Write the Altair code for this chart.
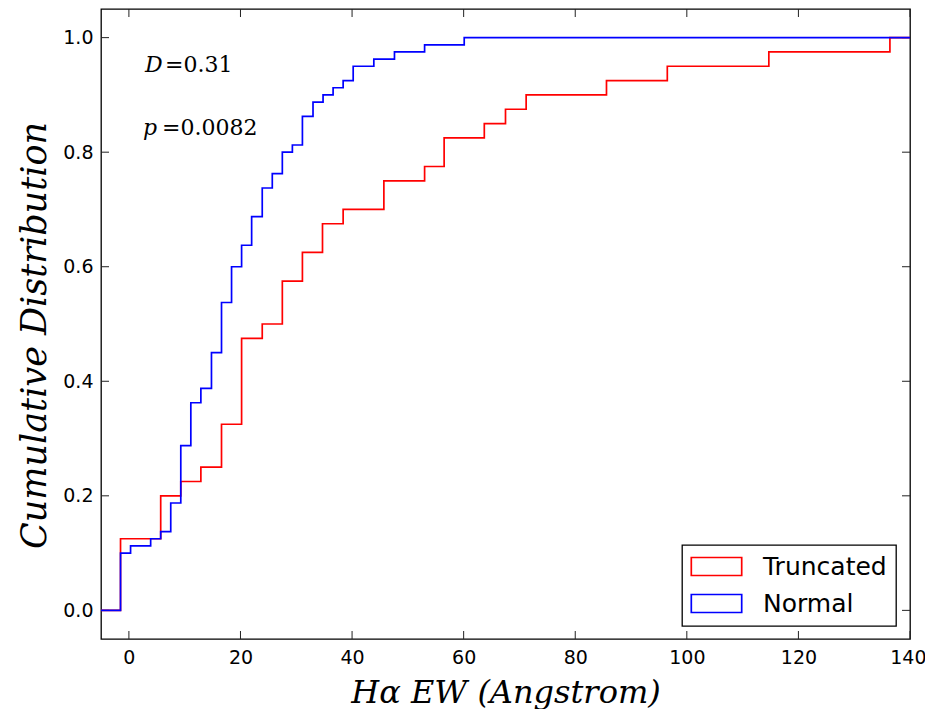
import altair as alt
import pandas as pd

# Cumulative distribution step points (x = H-alpha EW, y = cumulative fraction)
normal_x = [-5, -1.5, 0.3, 3.9, 5.7, 7.5, 9.3, 11.1, 12.9, 14.8, 16.6, 18.4, 20.2, 22.0, 23.9,
            25.7, 27.5, 29.3, 31.1, 33.0, 34.8, 36.6, 38.4, 40.2, 43.9, 47.6, 53.0, 60.1, 140]
normal_y = [0, 0.1, 0.1125, 0.125, 0.1375, 0.1875, 0.2875, 0.3625, 0.3875, 0.45, 0.5375, 0.6,
            0.6375, 0.6875, 0.7375, 0.7625, 0.8, 0.8125, 0.8625, 0.8875, 0.9, 0.9125, 0.925,
            0.95, 0.9625, 0.975, 0.9875, 1.0, 1.0]
trunc_x = [-5, -1.5, 5.7, 9.3, 12.9, 16.6, 20.2, 23.9, 27.5, 31.1, 34.7, 38.4, 45.7, 53.0, 56.5,
           63.7, 67.5, 71.2, 85.6, 96.5, 114.7, 136.4, 140]
trunc_y = [0, 0.125, 0.2, 0.225, 0.25, 0.325, 0.475, 0.5, 0.575, 0.625, 0.675, 0.7, 0.75, 0.775,
           0.825, 0.85, 0.875, 0.9, 0.925, 0.95, 0.975, 1.0, 1.0]

series_names = ["Truncated", "Normal"]
series_colors = ["#ff0000", "#0000ff"]
x_ticks = [0, 20, 40, 60, 80, 100, 120, 140]
y_ticks = [0.0, 0.2, 0.4, 0.6, 0.8, 1.0]
stat_labels = ["D", "p"]
stat_values = ["=0.31", "=0.0082"]

W, H = 809, 630

trunc_df = pd.DataFrame({"x": trunc_x, "y": trunc_y, "series": "Truncated",
                         "i": range(len(trunc_x))})
normal_df = pd.DataFrame({"x": normal_x, "y": normal_y, "series": "Normal",
                          "i": range(len(normal_x))})

x_scale = alt.Scale(domain=[-5, 140], nice=False, zero=False)
y_scale = alt.Scale(domain=[-0.05, 1.05], nice=False, zero=False)

x_axis = alt.Axis(values=x_ticks, title="Hα EW (Angstrom)", tickSize=0, domain=False,
                  grid=False, labelFont="DejaVu Sans", labelFontSize=19, labelColor="black",
                  labelPadding=9, titleFont="DejaVu Serif", titleFontStyle="italic",
                  titleFontWeight="normal", titleFontSize=32, titleColor="black",
                  titleBaseline="alphabetic", titleY=63, labelFlush=1, labelFlushOffset=16)
y_axis = alt.Axis(values=y_ticks, format=".1f", title="Cumulative Distribution", tickSize=0,
                  domain=False, grid=False, labelFont="DejaVu Sans", labelFontSize=19,
                  labelColor="black", labelPadding=8, titleFont="DejaVu Serif",
                  titleFontStyle="italic", titleFontWeight="normal", titleFontSize=35,
                  titleColor="black", titleBaseline="alphabetic", titleAlign="center",
                  titleAngle=270, titleX=-56, titleY=326, labelFlush=False)

color = alt.Color("series:N", scale=alt.Scale(domain=series_names, range=series_colors),
                  legend=alt.Legend(title=None, orient="none", legendX=581, legendY=536,
                                    direction="vertical", labelExpr="datum.label + ' '"))

line_trunc = alt.Chart(trunc_df).mark_line(interpolate="step-after", strokeWidth=1.7).encode(
    x=alt.X("x:Q", scale=x_scale, axis=x_axis),
    y=alt.Y("y:Q", scale=y_scale, axis=y_axis),
    color=color, order="i:Q")
line_normal = alt.Chart(normal_df).mark_line(interpolate="step-after", strokeWidth=1.7).encode(
    x=alt.X("x:Q", scale=x_scale, axis=x_axis),
    y=alt.Y("y:Q", scale=y_scale, axis=y_axis),
    color=color, order="i:Q")

xt = pd.DataFrame({"x": x_ticks})
yt = pd.DataFrame({"y": y_ticks})
tick_style = dict(color="#222222", strokeWidth=1)
xticks_bottom = alt.Chart(xt).mark_rule(**tick_style).encode(
    x=alt.X("x:Q", scale=x_scale, axis=x_axis), y=alt.value(H), y2=alt.value(H - 8))
xticks_top = alt.Chart(xt).mark_rule(**tick_style).encode(
    x=alt.X("x:Q", scale=x_scale, axis=x_axis), y=alt.value(0), y2=alt.value(8))
yticks_left = alt.Chart(yt).mark_rule(**tick_style).encode(
    y=alt.Y("y:Q", scale=y_scale, axis=y_axis), x=alt.value(0), x2=alt.value(8))
yticks_right = alt.Chart(yt).mark_rule(**tick_style).encode(
    y=alt.Y("y:Q", scale=y_scale, axis=y_axis), x=alt.value(W - 8), x2=alt.value(W))

stat_df = pd.DataFrame({"sym": stat_labels, "val": stat_values})
d_sym = alt.Chart(stat_df.iloc[[0]]).mark_text(
    align="left", baseline="alphabetic", font="DejaVu Serif", fontStyle="italic",
    fontSize=22, color="black").encode(text="sym:N", x=alt.value(44), y=alt.value(63))
d_val = alt.Chart(stat_df.iloc[[0]]).mark_text(
    align="left", baseline="alphabetic", font="DejaVu Serif",
    fontSize=22, color="black").encode(text="val:N", x=alt.value(64), y=alt.value(63))
p_sym = alt.Chart(stat_df.iloc[[1]]).mark_text(
    align="left", baseline="alphabetic", font="DejaVu Serif", fontStyle="italic",
    fontSize=22, color="black").encode(text="sym:N", x=alt.value(42), y=alt.value(126))
p_val = alt.Chart(stat_df.iloc[[1]]).mark_text(
    align="left", baseline="alphabetic", font="DejaVu Serif",
    fontSize=22, color="black").encode(text="val:N", x=alt.value(61), y=alt.value(126))

chart = alt.layer(
    xticks_bottom, xticks_top, yticks_left, yticks_right,
    line_trunc, line_normal, d_sym, d_val, p_sym, p_val
).properties(
    width=W, height=H,
    autosize=alt.AutoSizeParams(type="none"),
    padding={"left": 93, "top": 1, "right": 15, "bottom": 70},
    background="white",
).configure_view(
    stroke="black", strokeWidth=1.3
).configure_legend(
    symbolType="M-2.8,-1H2.8V1H-2.8Z",
    symbolSize=324,
    symbolStrokeWidth=1.7,
    symbolFillColor="white",
    symbolOffset=13,
    labelFont="DejaVu Sans",
    labelFontSize=25,
    labelColor="black",
    labelOffset=34,
    padding=9,
    rowPadding=11,
    strokeColor="black",
    strokeWidth=1.3,
    fillColor="white",
    cornerRadius=0,
)

chart.save("out.html", embed_options={"renderer": "svg", "actions": False})
